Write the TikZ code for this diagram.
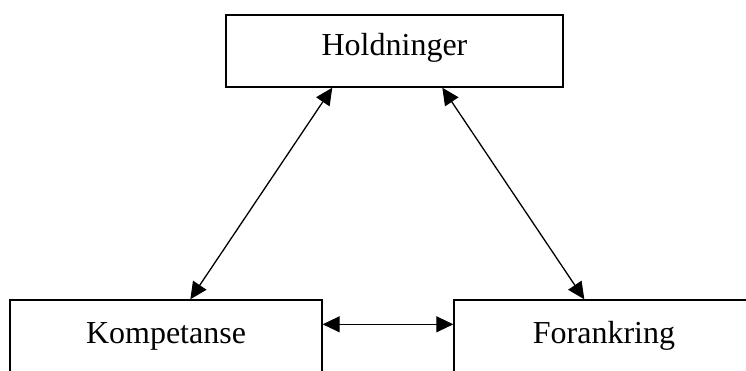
\documentclass[tikz,border=0pt]{standalone}
\usepackage{fontspec}
\setmainfont{Liberation Serif}
\usetikzlibrary{arrows.meta,calc}
\begin{document}
\begin{tikzpicture}[x=1pt,y=1pt,
  box/.style={draw=black, line width=1.4pt, fill=white, rectangle, inner sep=0pt,
    minimum height=72pt, text height=22pt, text depth=14pt,
    font=\fontsize{32}{38}\selectfont},
  link/.style={line width=1.3pt, {Triangle[length=17pt,width=16pt]}-{Triangle[length=17pt,width=16pt]}}
]
\useasboundingbox (0,0) rectangle (746,-370);
\node[box, minimum width=337pt] (hold) at (394.5,-51) {Holdninger};
\node[box, minimum width=312pt, minimum height=78pt] (komp) at (166,-339) {Kompetanse};
\node[box, minimum width=300pt, minimum height=78pt] (fora) at (604,-339) {Forankring};
\draw[link] ([xshift=107pt]hold.south west) -- ([xshift=181pt]komp.north west);
\draw[link] ([xshift=217pt]hold.south west) -- ([xshift=131pt]fora.north west);
\draw[link] ([yshift=-25pt]komp.north east) -- ([yshift=-25pt]fora.north west);
\end{tikzpicture}
\end{document}
